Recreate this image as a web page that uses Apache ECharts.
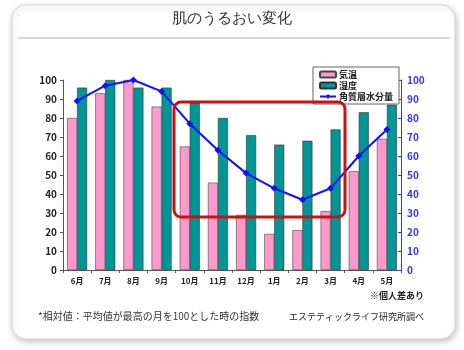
<!DOCTYPE html>
<html>
<head>
<meta charset="utf-8">
<title>肌のうるおい変化</title>
<script src="https://cdn.jsdelivr.net/npm/echarts@6/dist/echarts.min.js"></script>
<style>
  html, body { margin: 0; padding: 0; background: #fff; }
  #main { width: 464px; height: 350px; }
</style>
</head>
<body>
<div id="main"></div>
<script type="text/javascript">
    var months = ['6月', '7月', '8月', '9月', '10月', '11月', '12月', '1月', '2月', '3月', '4月', '5月'];
    var kion = [80, 93, 100, 86, 65, 46, 29, 19, 21, 31, 52, 69];
    var shitsudo = [96, 100, 96, 96, 88, 80, 71, 66, 68, 74, 83, 87];
    var suibun = [89, 97, 100, 94, 77, 63, 51, 43, 37, 43, 60, 74];

    var myChart = echarts.init(document.getElementById('main'));
    var font = '"Noto Sans CJK JP", "Noto Sans", sans-serif';

    var option = {
        animation: false,
        textStyle: {fontFamily: font},
        grid: {left: 63, right: 63, top: 80, bottom: 80, containLabel: false},
        legend: {
            orient: 'vertical',
            left: 313,
            top: 67,
            width: 80,
            itemWidth: 16,
            itemHeight: 6,
            itemGap: 2,
            padding: [3, 6, 3, 6],
            borderColor: '#666',
            borderWidth: 1,
            backgroundColor: '#fff',
            textStyle: {fontSize: 9, fontWeight: 'bold', color: '#222', padding: [0, 0, 0, -2]},
            data: ['気温', '湿度', '角質層水分量']
        },
        xAxis: {
            type: 'category',
            data: months,
            axisLine: {lineStyle: {color: '#555'}},
            axisTick: {show: true, length: 3, lineStyle: {color: '#555'}},
            axisLabel: {fontSize: 8, fontWeight: 'bold', color: '#222', margin: 7}
        },
        yAxis: [
            {
                type: 'value', min: 0, max: 100, interval: 10,
                splitLine: {show: false},
                axisLine: {show: true, lineStyle: {color: '#555'}},
                axisTick: {show: true, length: 3, lineStyle: {color: '#555'}},
                axisLabel: {fontSize: 10, fontWeight: 'bold', color: '#222', margin: 6}
            },
            {
                type: 'value', min: 0, max: 100, interval: 10, position: 'right',
                splitLine: {show: false},
                axisLine: {show: true, lineStyle: {color: '#3333ff'}},
                axisTick: {show: true, inside: true, length: 3, lineStyle: {color: '#3333ff'}},
                axisLabel: {fontSize: 10, fontWeight: 'bold', color: '#3333ff', margin: 6}
            }
        ],
        series: [
            {
                name: '気温', type: 'bar', barWidth: 10, barGap: 0,
                itemStyle: {color: '#ff99cc', borderColor: '#444', borderWidth: 0.6},
                data: kion
            },
            {
                name: '湿度', type: 'bar', barWidth: 10,
                itemStyle: {color: '#009696', borderColor: '#333', borderWidth: 0.6},
                data: shitsudo
            },
            {
                name: '角質層水分量', type: 'line', z: 5,
                symbol: 'diamond', symbolSize: 7,
                lineStyle: {color: '#1010ff', width: 2},
                itemStyle: {color: '#1010ff'},
                data: suibun
            }
        ],
        graphic: [
            {
                type: 'rect', z: -10, silent: true,
                shape: {x: 12, y: 5, width: 443, height: 334, r: 14},
                style: {fill: '#fff', stroke: '#d8d8d8', lineWidth: 1,
                    shadowBlur: 6, shadowColor: 'rgba(0,0,0,0.25)', shadowOffsetX: 1, shadowOffsetY: 2}
            },
            {
                type: 'text', left: 'center', top: 11,
                style: {text: '肌のうるおい変化', fontSize: 15, fill: '#333', font: '15px ' + font}
            },
            {
                type: 'line', silent: true,
                shape: {x1: 18, y1: 38, x2: 450, y2: 38},
                style: {stroke: '#ccc', lineWidth: 1.5}
            },
            {
                type: 'rect', z: 100, silent: true,
                shape: {x: 174, y: 102, width: 171, height: 115, r: 7},
                style: {fill: 'none', stroke: '#cc1111', lineWidth: 3}
            },
            {
                type: 'text', right: 40, top: 291,
                style: {text: '※個人差あり', font: 'bold 9px ' + font, fill: '#222'}
            },
            {
                type: 'text', left: 38, top: 311,
                style: {text: '*相対値：平均値が最高の月を100とした時の指数', font: '10px ' + font, fill: '#333'}
            },
            {
                type: 'text', right: 40, top: 312,
                style: {text: 'エステティックライフ研究所調べ', font: '9px ' + font, fill: '#222'}
            }
        ]
    };
    myChart.setOption(option);
</script>
</body>
</html>
